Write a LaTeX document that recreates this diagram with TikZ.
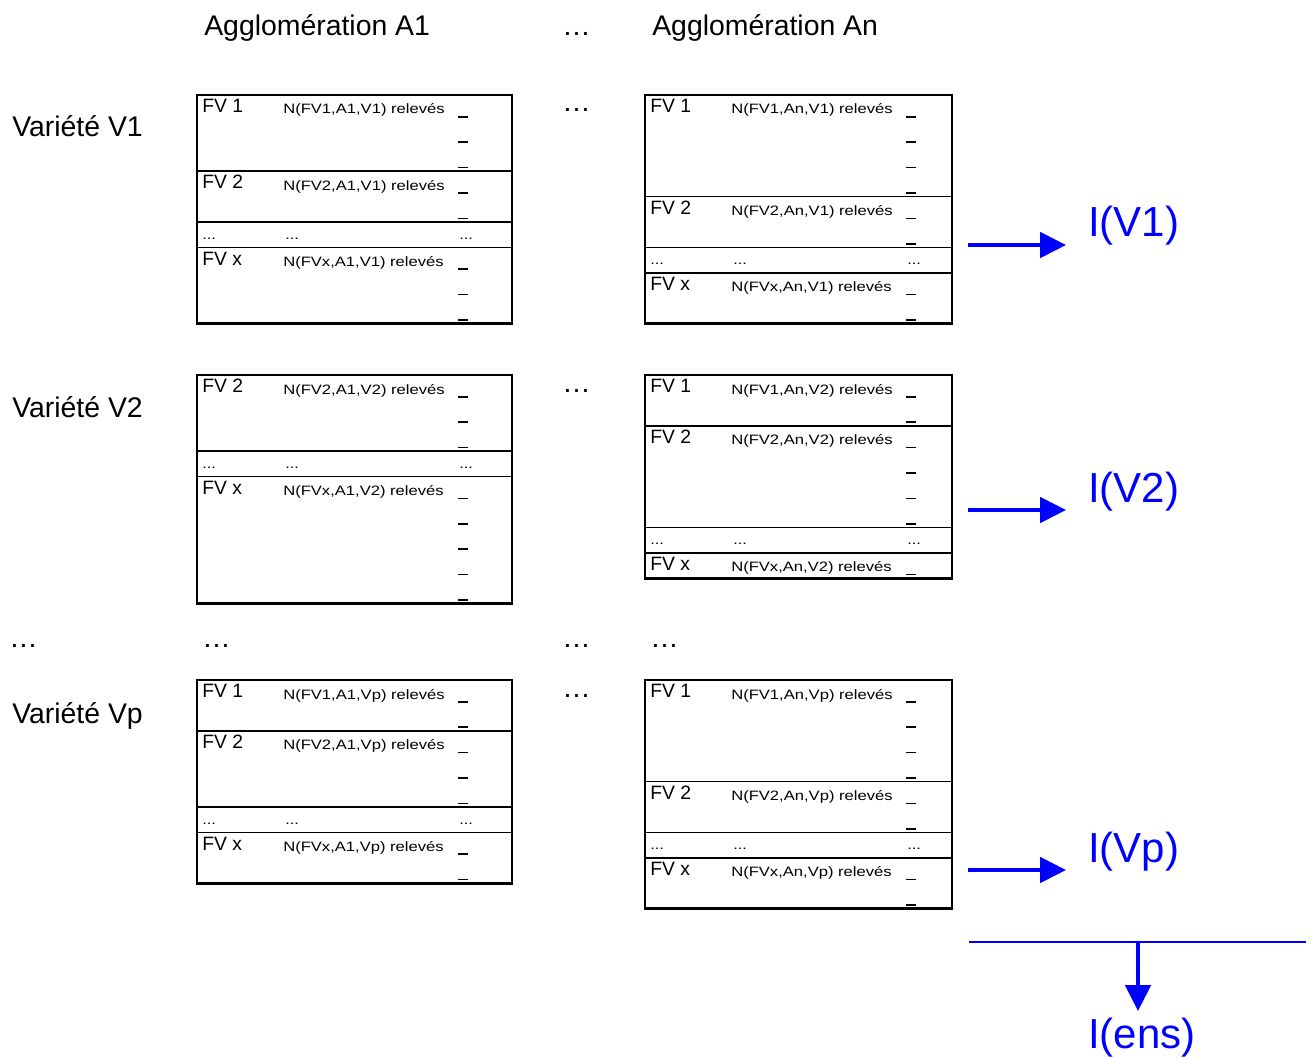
\documentclass[tikz,border=0pt]{standalone}
\usepackage{fontspec}
\setmainfont{Liberation Sans}
\newfontfamily\nfont[FakeStretch=1.22]{Liberation Sans}
\usetikzlibrary{arrows.meta,calc}
\tikzset{
  secbox/.style={draw, line width=1.1pt, inner sep=0pt, outer sep=0pt, anchor=north west},
  outerbox/.style={draw, line width=2.2pt},
  fvlab/.style={anchor=base west, inner sep=0pt, font=\fontsize{14.5pt}{16pt}\selectfont},
  ntext/.style={anchor=base west, inner sep=0pt, font=\nfont\fontsize{10.2pt}{12pt}\selectfont},
  dotstext/.style={anchor=base west, inner sep=0pt, font=\nfont\fontsize{10.1pt}{12pt}\selectfont},
  tickmark/.style={line width=1.1pt},
  head/.style={anchor=base west, inner sep=0pt, font=\fontsize{21.3pt}{24pt}\selectfont},
  res/.style={anchor=base west, inner sep=0pt, text=blue, font=\fontsize{31.5pt}{36pt}\selectfont},
  bluearrow/.style={draw=blue, line width=3pt, -{Triangle[length=19.5pt,width=19pt]}},
  blueline/.style={draw=blue, line width=1.5pt},
}
% section: name, x, ytop, nrows, label, N text, width(px)
\newcommand{\fvsec}[7]{%
  \node[secbox, minimum width={#7*0.75pt}, minimum height={#4*19.05pt}] (#1) at (#2,#3) {};
  \node[fvlab] (#1-l) at ($(#1.north west)+(5,17.8)$) {#5};
  \node[ntext] (#1-n) at ($(#1.north west)+(86,19)$) {#6};
  \foreach \rr in {1,...,#4}{\draw[tickmark] ($(#1.north west)+(261,\rr*25.4-3.6)$) -- ++(10,0);}
}
% dots section: name, x, ytop, width(px)
\newcommand{\dotsec}[4]{%
  \node[secbox, minimum width={#4*0.75pt}, minimum height=19.05pt] (#1) at (#2,#3) {};
  \node[dotstext] (#1-a) at ($(#1.north west)+(5,17.5)$) {...};
  \node[dotstext] (#1-b) at ($(#1.north west)+(88,17.5)$) {...};
  \node[dotstext] (#1-c) at ($(#1.north west)+(262,17.5)$) {...};
}
\begin{document}
\begin{tikzpicture}[x=0.75pt,y=-0.75pt]
\useasboundingbox (0,0) rectangle (1316,1059);

% headers
\node[head] (hA1) at (204,36) {Agglomération A1};
\node[head] (hdots) at (562,36) {…};
\node[head] (hAn) at (652,36) {Agglomération An};

% row labels
\node[head] (v1) at (12,137) {Variété V1};
\node[head] (v2) at (12,417) {Variété V2};
\node[head] (vd) at (9,647) {…};
\node[head] (vp) at (12,723) {Variété Vp};

% middle ellipses
\node[head] (e1) at (562,112) {…};
\node[head] (e2) at (562,392) {…};
\node[head] (e3) at (202,647) {…};
\node[head] (e4) at (562,647) {…};
\node[head] (e5) at (650,647) {…};
\node[head] (e6) at (562,697) {…};

% table A1 V1
\fvsec{t11a}{197}{95}{3}{FV 1}{N(FV1,A1,V1) relevés}{315}
\fvsec{t11b}{197}{171.2}{2}{FV 2}{N(FV2,A1,V1) relevés}{315}
\dotsec{t11c}{197}{222}{315}
\fvsec{t11d}{197}{247.4}{3}{FV x}{N(FVx,A1,V1) relevés}{315}
\draw[outerbox] (t11a.north west) rectangle (t11d.south east);

% table An V1
\fvsec{tn1a}{645}{95}{4}{FV 1}{N(FV1,An,V1) relevés}{307}
\fvsec{tn1b}{645}{196.6}{2}{FV 2}{N(FV2,An,V1) relevés}{307}
\dotsec{tn1c}{645}{247.4}{307}
\fvsec{tn1d}{645}{272.8}{2}{FV x}{N(FVx,An,V1) relevés}{307}
\draw[outerbox] (tn1a.north west) rectangle (tn1d.south east);

% table A1 V2
\fvsec{t12a}{197}{375}{3}{FV 2}{N(FV2,A1,V2) relevés}{315}
\dotsec{t12b}{197}{451.2}{315}
\fvsec{t12c}{197}{476.6}{5}{FV x}{N(FVx,A1,V2) relevés}{315}
\draw[outerbox] (t12a.north west) rectangle (t12c.south east);

% table An V2
\fvsec{tn2a}{645}{375}{2}{FV 1}{N(FV1,An,V2) relevés}{307}
\fvsec{tn2b}{645}{425.8}{4}{FV 2}{N(FV2,An,V2) relevés}{307}
\dotsec{tn2c}{645}{527.4}{307}
\fvsec{tn2d}{645}{552.8}{1}{FV x}{N(FVx,An,V2) relevés}{307}
\draw[outerbox] (tn2a.north west) rectangle (tn2d.south east);

% table A1 Vp
\fvsec{t1pa}{197}{680}{2}{FV 1}{N(FV1,A1,Vp) relevés}{315}
\fvsec{t1pb}{197}{730.8}{3}{FV 2}{N(FV2,A1,Vp) relevés}{315}
\dotsec{t1pc}{197}{807}{315}
\fvsec{t1pd}{197}{832.4}{2}{FV x}{N(FVx,A1,Vp) relevés}{315}
\draw[outerbox] (t1pa.north west) rectangle (t1pd.south east);

% table An Vp
\fvsec{tnpa}{645}{680}{4}{FV 1}{N(FV1,An,Vp) relevés}{307}
\fvsec{tnpb}{645}{781.6}{2}{FV 2}{N(FV2,An,Vp) relevés}{307}
\dotsec{tnpc}{645}{832.4}{307}
\fvsec{tnpd}{645}{857.8}{2}{FV x}{N(FVx,An,Vp) relevés}{307}
\draw[outerbox] (tnpa.north west) rectangle (tnpd.south east);

% results
\node[res] (IV1) at (1088,237) {I(V1)};
\node[res] (IV2) at (1088,502) {I(V2)};
\node[res] (IVp) at (1088,862) {I(Vp)};
\node[res] (Iens) at (1088,1048) {I(ens)};

\coordinate (a1s) at (968,245);  \coordinate (a1e) at (1066,245);
\coordinate (a2s) at (968,510);  \coordinate (a2e) at (1066,510);
\coordinate (aps) at (968,870);  \coordinate (ape) at (1066,870);
\draw[bluearrow] (a1s) -- (a1e);
\draw[bluearrow] (a2s) -- (a2e);
\draw[bluearrow] (aps) -- (ape);

\coordinate (hl) at (969,942); \coordinate (hr) at (1306,942);
\coordinate (vs) at (1138,942); \coordinate (ve) at (1138,1011);
\draw[blueline] (hl) -- (hr);
\draw[bluearrow] (vs) -- (ve);
\end{tikzpicture}
\end{document}
